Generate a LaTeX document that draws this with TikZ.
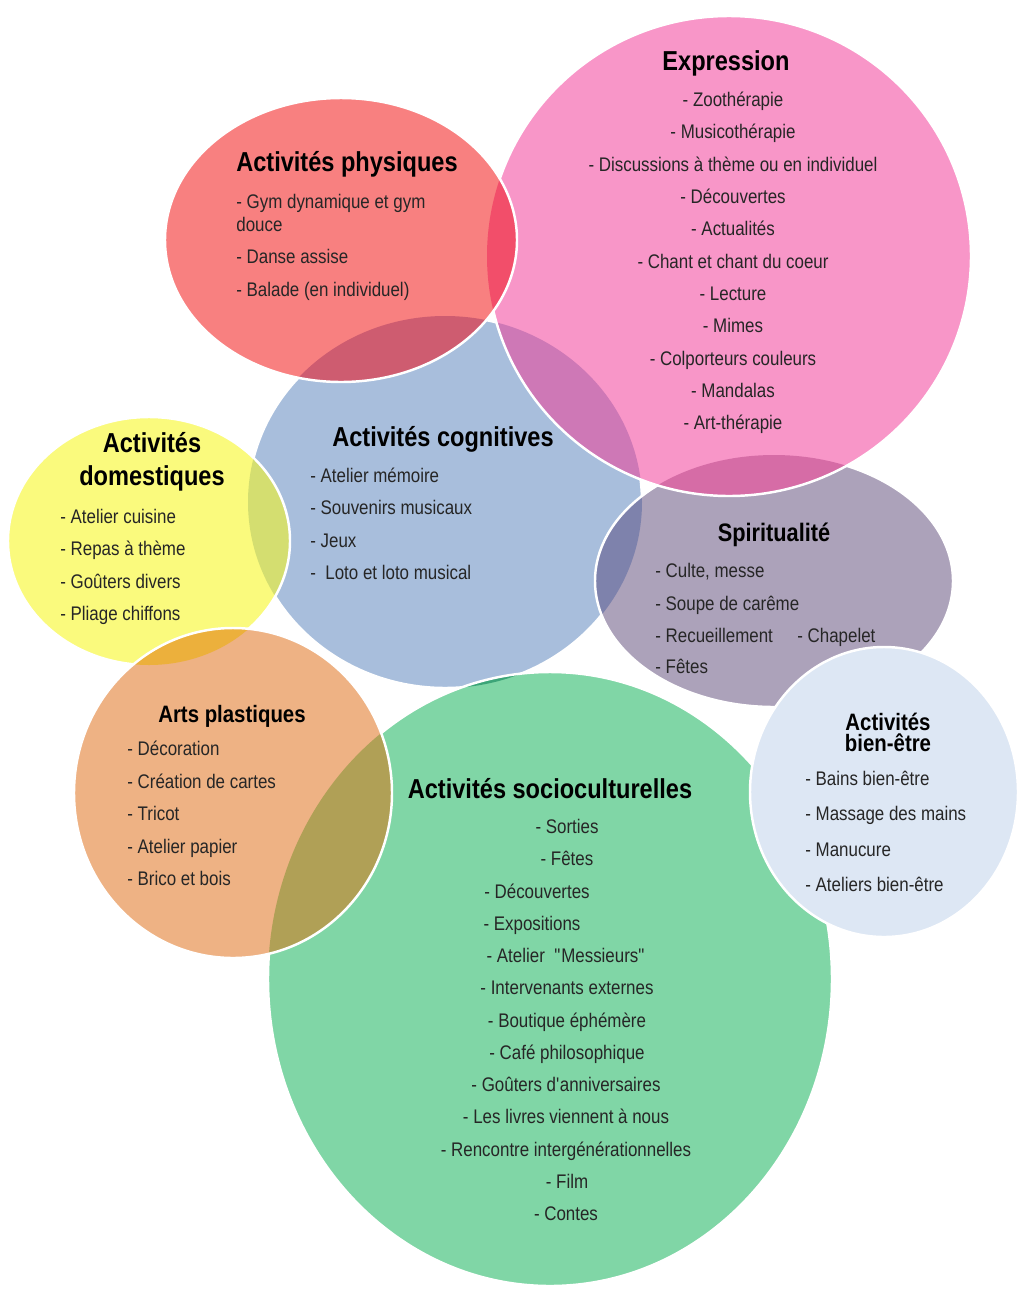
\documentclass[tikz,border=0pt]{standalone}
\usepackage{fontspec}
\setmainfont{Liberation Sans}[FakeStretch=0.86]

\definecolor{cCogn}{RGB}{168,190,220}
\definecolor{cSpir}{RGB}{172,162,186}
\definecolor{cExpr}{RGB}{248,150,200}
\definecolor{cPhys}{RGB}{248,128,128}
\definecolor{cDom}{RGB}{250,250,125}
\definecolor{cSocio}{RGB}{128,214,166}
\definecolor{cArts}{RGB}{238,178,132}
\definecolor{cBien}{RGB}{221,231,244}
% overlaps
\definecolor{cSpirCogn}{RGB}{126,130,172}
\definecolor{cExprCogn}{RGB}{206,120,182}
\definecolor{cExprSpir}{RGB}{214,108,166}
\definecolor{cPhysExpr}{RGB}{242,78,106}
\definecolor{cPhysCogn}{RGB}{206,92,112}
\definecolor{cDomCogn}{RGB}{212,222,112}
\definecolor{cSocioCogn}{RGB}{60,165,120}
\definecolor{cArtsDom}{RGB}{236,176,60}
\definecolor{cArtsSocio}{RGB}{176,160,86}

\newcommand{\ovCogn}{(445,502) ellipse [x radius=197, y radius=186]}
\newcommand{\ovSpir}{(774,581) ellipse [x radius=179, y radius=126]}
\newcommand{\ovExpr}{(729,256) ellipse [x radius=242, y radius=240]}
\newcommand{\ovPhys}{(341,240) ellipse [x radius=176, y radius=142]}
\newcommand{\ovDom}{(149,541) ellipse [x radius=141, y radius=124]}
\newcommand{\ovSocio}{(550,979) ellipse [x radius=282, y radius=307]}
\newcommand{\ovArts}{(233,793) ellipse [x radius=159, y radius=165]}
\newcommand{\ovBien}{(884,792) ellipse [x radius=134, y radius=145]}

\begin{document}
\begin{tikzpicture}[x=0.02cm,y=-0.02cm,
  ttl/.style={font=\bfseries\fontsize{15.6}{18.8}\selectfont,inner sep=0pt,align=center,yshift=-1.7pt},
  stl/.style={font=\bfseries\fontsize{13.5}{12}\selectfont,inner sep=0pt,align=center,yshift=-1.7pt},
  itm/.style={font=\fontsize{11.2}{13}\selectfont,inner sep=0pt,text=black!85,anchor=mid west,yshift=-1.7pt},
  rim/.style={draw=white,line width=1.4pt}]
\useasboundingbox (0,0) rectangle (1018,1289);

% circles, from the back to the front
\fill[cCogn] \ovCogn;
\draw[rim] \ovCogn;

\fill[cSpir] \ovSpir;
\begin{scope} \clip \ovSpir; \fill[cSpirCogn] \ovCogn; \end{scope}
\draw[rim] \ovSpir;

\fill[cExpr] \ovExpr;
\begin{scope} \clip \ovExpr; \fill[cExprCogn] \ovCogn; \fill[cExprSpir] \ovSpir; \end{scope}
\draw[rim] \ovExpr;

\fill[cPhys] \ovPhys;
\begin{scope} \clip \ovPhys; \fill[cPhysExpr] \ovExpr; \fill[cPhysCogn] \ovCogn; \end{scope}
\draw[rim] \ovPhys;

\fill[cDom] \ovDom;
\begin{scope} \clip \ovDom; \fill[cDomCogn] \ovCogn; \end{scope}
\draw[rim] \ovDom;

\fill[cSocio] \ovSocio;
\begin{scope} \clip \ovSocio; \fill[cSocioCogn] \ovCogn; \end{scope}
\draw[rim] \ovSocio;

\fill[cArts] \ovArts;
\begin{scope} \clip \ovArts; \fill[cArtsDom] \ovDom; \fill[cArtsSocio] \ovSocio; \end{scope}
\draw[rim] \ovArts;

\filldraw[fill=cBien,rim] \ovBien;

% Expression
\node[ttl] (expr) at (726,60) {Expression};
\foreach \t [count=\i from 0] in {Zoothérapie,Musicothérapie,Discussions à thème ou en individuel,Découvertes,Actualités,Chant et chant du coeur,Lecture,Mimes,Colporteurs couleurs,Mandalas,Art-thérapie}
  \node[itm,anchor=mid] (expr\i) at (733,99+32.3*\i) {- \t};

% Activites physiques
\node[ttl] (phys) at (347,161) {Activités physiques};
\foreach \y/\t [count=\i] in {201/- Gym dynamique et gym,224/douce,256/- Danse assise,289/- Balade (en individuel)}
  \node[itm] (phys\i) at (236,\y) {\t};

% Activites cognitives
\node[ttl] (cogn) at (443,436) {Activités cognitives};
\foreach \t [count=\i from 0] in {Atelier mémoire,Souvenirs musicaux,Jeux,~Loto et loto musical}
  \node[itm] (cogn\i) at (310,475+32.3*\i) {- \t};

% Activites domestiques
\node[ttl] (dom) at (152,459) {Activités\\domestiques};
\foreach \t [count=\i from 0] in {Atelier cuisine,Repas à thème,Goûters divers,Pliage chiffons}
  \node[itm] (dom\i) at (60,516+32.3*\i) {- \t};

% Spiritualite
\node[ttl,font=\bfseries\fontsize{14.4}{17}\selectfont] (spir) at (774,532) {Spiritualité};
\foreach \y/\t [count=\i] in {570/{Culte, messe},603/Soupe de carême,635/Recueillement,666/Fêtes}
  \node[itm] (spir\i) at (655,\y) {- \t};
\node[itm] (spir5) at (797,635) {- Chapelet};

% Arts plastiques
\node[stl] (arts) at (232,713) {Arts plastiques};
\foreach \t [count=\i from 0] in {Décoration,Création de cartes,Tricot,Atelier papier,Brico et bois}
  \node[itm] (arts\i) at (127,748+32.5*\i) {- \t};

% Activites bien-etre
\node[stl] (bien) at (888,729) {Activités\\bien-être};
\foreach \t [count=\i from 0] in {Bains bien-être,Massage des mains,Manucure,Ateliers bien-être}
  \node[itm] (bien\i) at (805,778+35.3*\i) {- \t};

% Activites socioculturelles
\node[ttl] (socio) at (550,786) {Activités socioculturelles};
\foreach \x/\t [count=\i from 0] in {567/Sorties,567/Fêtes,537/Découvertes,532/Expositions,566/Atelier~ {\textquotedbl}Messieurs{\textquotedbl},567/Intervenants externes,567/Boutique éphémère,567/Café philosophique,566/Goûters d{\textquotesingle}anniversaires,566/Les livres viennent à nous,566/Rencontre intergénérationnelles,567/Film,566/Contes}
  \node[itm,anchor=mid] (socio\i) at (\x,826+32.25*\i) {- \t};
\end{tikzpicture}
\end{document}
